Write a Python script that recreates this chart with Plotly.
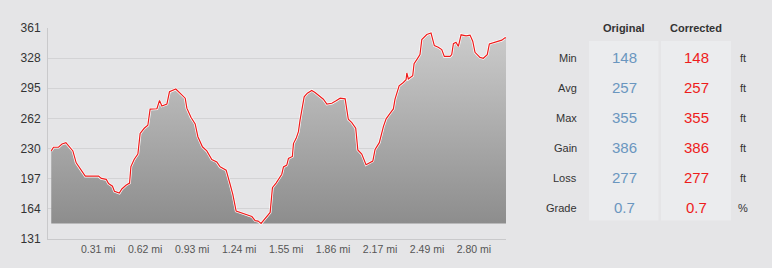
import plotly.graph_objects as go

# ---------------- data ----------------
distance_mi = [
    0.000, 0.015, 0.048, 0.071, 0.097, 0.114, 0.143, 0.165, 0.192, 0.225,
    0.313, 0.331, 0.364, 0.379, 0.405, 0.418, 0.450, 0.467, 0.494, 0.518,
    0.527, 0.549, 0.573, 0.588, 0.615, 0.639, 0.654, 0.699, 0.716, 0.732,
    0.765, 0.782, 0.824, 0.853, 0.886, 0.897, 0.924, 0.952, 0.970, 1.000,
    1.029, 1.062, 1.095, 1.117, 1.157, 1.183, 1.201, 1.223, 1.267, 1.294,
    1.327, 1.349, 1.368, 1.388, 1.415, 1.448, 1.463, 1.487, 1.525, 1.536,
    1.558, 1.569, 1.595, 1.602, 1.620, 1.635, 1.646, 1.657, 1.673, 1.694,
    1.723, 1.745, 1.778, 1.800, 1.823, 1.856, 1.884, 1.911, 1.944, 1.965,
    1.988, 2.014, 2.028, 2.054, 2.082, 2.109, 2.127, 2.142, 2.170, 2.197,
    2.215, 2.241, 2.263, 2.274, 2.286, 2.301, 2.329, 2.347, 2.352, 2.362,
    2.391, 2.400, 2.418, 2.439, 2.451, 2.484, 2.512, 2.534, 2.560, 2.583,
    2.600, 2.638, 2.649, 2.660, 2.677, 2.693, 2.711, 2.744, 2.770, 2.788,
    2.803, 2.836, 2.858, 2.884, 2.898, 2.924, 2.957, 2.980, 3.001, 3.008,
]
elevation_ft = [
    227, 231, 231, 234.5, 236, 233, 227, 214, 208, 199.5,
    199.5, 197, 196, 191.5, 188.5, 183, 181, 185.5, 189.6, 192,
    210, 218, 223.5, 246, 251.7, 255, 272.5, 273, 282, 276,
    278, 291.5, 294.5, 290, 284.5, 273.6, 263.7, 256.5, 242.5, 231.5,
    227, 217.7, 215, 209.6, 206, 190.7, 179.7, 161.5, 159, 156.7,
    155.5, 151, 150.5, 148, 154, 160, 187, 192, 201.6, 209.6,
    211.5, 218.8, 221, 235, 240.7, 248, 260.8, 270, 286, 290,
    293, 290.7, 286, 283.4, 278, 279, 281.6, 284.5, 283.8, 261.5,
    257.8, 251.7, 228, 223.5, 212, 214, 216, 228.7, 236, 253.5,
    262, 268, 272.8, 283.4, 289, 298, 301.6, 304.6, 312, 305.4,
    309, 322, 326.5, 332, 348.4, 353.9, 355.5, 341.8, 340, 337.5,
    330, 330, 332, 344, 345.5, 341, 353.6, 352.5, 353.3, 346.6,
    334.5, 329, 328, 332, 343.7, 344.8, 346.6, 347.7, 350.3, 350.3,
]

y_tick_vals = [131 + k * 230 / 7 for k in range(8)]
y_tick_text = ["131", "164", "197", "230", "262", "295", "328", "361"]
x_tick_vals = [k * 0.31069 for k in range(1, 10)]
x_tick_text = ["0.31 mi", "0.62 mi", "0.93 mi", "1.24 mi", "1.55 mi",
               "1.86 mi", "2.17 mi", "2.49 mi", "2.80 mi"]

stat_labels = ["Min", "Avg", "Max", "Gain", "Loss", "Grade"]
original_vals = ["148", "257", "355", "386", "277", "0.7"]
corrected_vals = ["148", "257", "355", "386", "277", "0.7"]
stat_units = ["ft", "ft", "ft", "ft", "ft", "%"]
col_headers = ["Original", "Corrected"]

# ---------------- layout geometry ----------------
W, H = 772, 268
L, R, T, B = 48, 266, 28, 29
PW, PH = W - L - R, H - T - B


def px(x):
    return (x - L) / PW


def py(y):
    return 1 - (y - T) / PH


FONT = "Helvetica Neue, Helvetica, Arial, Liberation Sans, sans-serif"
BG = "#e5e5e7"
CELL = "#ebecee"
BLUE = "#6a96bf"
RED = "#ee1c1c"

base = min(elevation_ft)

fig = go.Figure()
fig.add_trace(go.Scatter(
    x=distance_mi, y=[base] * len(distance_mi), mode="lines",
    line=dict(width=0), hoverinfo="skip", showlegend=False,
))
fig.add_trace(go.Scatter(
    x=distance_mi, y=elevation_ft, mode="lines", fill="tonexty",
    fillgradient=dict(type="vertical", start=base, stop=361,
                      colorscale=[[0, "#8d8d8d"], [1, "#cdcdcd"]]),
    line=dict(width=2.6, color="white"), showlegend=False, name="Original",
))
fig.add_trace(go.Scatter(
    x=distance_mi, y=elevation_ft, mode="lines",
    line=dict(width=1.2, color=RED), showlegend=False, name="Corrected",
))

fig.update_layout(
    width=W, height=H,
    margin=dict(l=L, r=R, t=T, b=B),
    paper_bgcolor=BG, plot_bgcolor=BG,
    font=dict(family=FONT, color="#333"),
    xaxis=dict(
        range=[-0.0215, 3.008], showgrid=False, zeroline=False,
        showline=True, linecolor="#c9c9cb", linewidth=1,
        tickvals=x_tick_vals, ticktext=x_tick_text,
        tickfont=dict(size=10.5, color="#555"), ticks="",
        fixedrange=True,
    ),
    yaxis=dict(
        range=[131, 361], showgrid=True, gridcolor="#d3d3d5", gridwidth=1,
        zeroline=False, showline=True, linecolor="#c9c9cb", linewidth=1,
        tickvals=y_tick_vals, ticktext=y_tick_text,
        tickfont=dict(size=12, color="#333"), ticks="",
        ticklabelstandoff=4, fixedrange=True,
    ),
)

shapes = []
# value column backgrounds
for x0, x1 in [(589, 658.5), (661, 731)]:
    shapes.append(dict(type="rect", xref="paper", yref="paper",
                       x0=px(x0), x1=px(x1), y0=py(220.5), y1=py(41),
                       fillcolor=CELL, line=dict(width=0), layer="below"))
fig.update_layout(shapes=shapes)

ann = []
header_x = [624, 696]
for hx, ht in zip(header_x, col_headers):
    ann.append(dict(x=px(hx), y=py(28.5), xref="paper", yref="paper",
                    text="<b>" + ht + "</b>", showarrow=False,
                    xanchor="center", yanchor="middle",
                    font=dict(size=11, color="#333", family=FONT)))
for i, (lab, ov, cv, un) in enumerate(zip(stat_labels, original_vals,
                                          corrected_vals, stat_units)):
    yc = 57.7 + 30 * i
    ann.append(dict(x=px(579), y=py(yc), xref="paper", yref="paper",
                    text=lab, showarrow=False, xanchor="right", yanchor="middle",
                    font=dict(size=11, color="#333", family=FONT)))
    ann.append(dict(x=px(624), y=py(yc), xref="paper", yref="paper",
                    text=ov, showarrow=False, xanchor="center", yanchor="middle",
                    font=dict(size=15, color=BLUE, family=FONT)))
    ann.append(dict(x=px(696), y=py(yc), xref="paper", yref="paper",
                    text=cv, showarrow=False, xanchor="center", yanchor="middle",
                    font=dict(size=15, color=RED, family=FONT)))
    ann.append(dict(x=px(743), y=py(yc), xref="paper", yref="paper",
                    text=un, showarrow=False, xanchor="center", yanchor="middle",
                    font=dict(size=11, color="#333", family=FONT)))
fig.update_layout(annotations=ann)

fig.write_html("out.html", config={"displayModeBar": False})
